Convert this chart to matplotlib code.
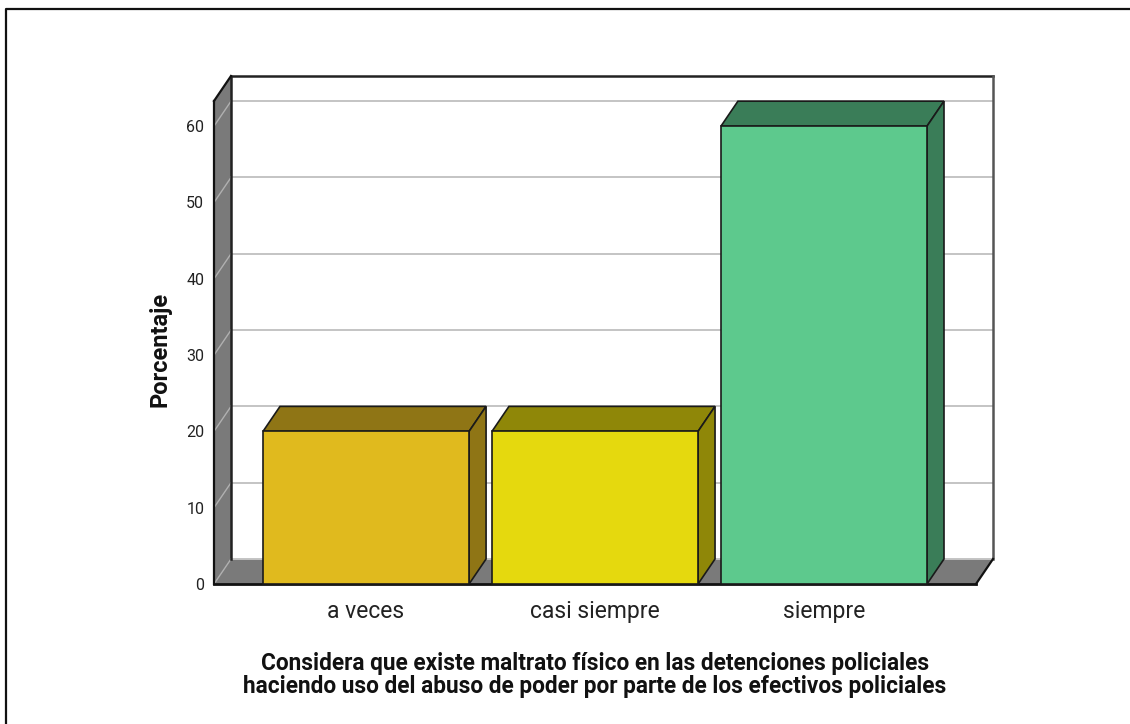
import matplotlib
matplotlib.use("Agg")
import matplotlib.pyplot as plt
from matplotlib.patches import Polygon, Rectangle
from matplotlib.transforms import Affine2D

categories = ["a veces", "casi siempre", "siempre"]
values = [20, 20, 60]
front_colors = ["#E0BA1E", "#E5D90E", "#5DC98D"]
dark_colors = ["#8F7515", "#8F8708", "#3A7D58"]
y_ticks = [0, 10, 20, 30, 40, 50, 60]
x_title = ("Considera que existe maltrato físico en las detenciones policiales\n"
           "haciendo uso del abuso de poder por parte de los efectivos policiales")

W, H = 1130, 724
plt.rcParams['font.family'] = ['Roboto', 'Liberation Sans', 'DejaVu Sans']

fig = plt.figure(figsize=(W / 100, H / 100), dpi=100)
ax = fig.add_axes([214 / W, 1 - 584 / H, 762 / W, 483 / H])
ax.set_xlim(-0.664, 2.664)
ax.set_ylim(0, 63.3)
ax.patch.set_visible(False)
for s in ax.spines.values():
    s.set_visible(False)

# depth of the fake 3d box, in pixels
dx, dy = 17, 25
back = ax.transData + Affine2D().translate(dx, dy)
xmin, xmax = ax.get_xlim()
ymax = ax.get_ylim()[1]
bar_w = 0.9
GREY = "#7A7A7A"


def to_px(x, y, depth=False):
    px = ax.transData.transform((x, y))
    return (px[0] + dx, px[1] + dy) if depth else tuple(px)


def poly(pts, **kw):
    ax.add_patch(Polygon(pts, closed=True, transform=None, clip_on=False, **kw))


def diagonal(x, y, color, lw, z):
    a, b = to_px(x, y), to_px(x, y, True)
    ax.plot([a[0], b[0]], [a[1], b[1]], transform=None, color=color, lw=lw, clip_on=False, zorder=z)


# floor and left wall
poly([to_px(xmin, 0), to_px(xmax, 0), to_px(xmax, 0, True), to_px(xmin, 0, True)],
     facecolor=GREY, edgecolor="none", zorder=1)
poly([to_px(xmin, 0), to_px(xmin, 0, True), to_px(xmin, ymax, True), to_px(xmin, ymax)],
     facecolor=GREY, edgecolor="none", zorder=1)

# gridlines on back wall and left wall
for t in y_ticks:
    ax.plot([xmin, xmax], [t, t], transform=back, color="#C4C4C4", lw=1.4, clip_on=False, zorder=2)
    diagonal(xmin, t, "#B0B0B0", 1, 2)

# box outline
ax.plot([xmin, xmin, xmax], [0, ymax, ymax], transform=back,
        color="#222222", lw=1.8, clip_on=False, zorder=2.5, solid_joinstyle="miter")
ax.plot([xmax, xmax], [0, ymax], transform=back, color="#555555", lw=1.8, clip_on=False, zorder=2.6)
diagonal(xmin, ymax, "#111111", 1.6, 2.6)
diagonal(xmax, 0, "#111111", 1.6, 2.6)
ax.plot([xmin, xmin], [0, ymax], color="#111111", lw=1.6, clip_on=False, zorder=2.6)
ax.plot([xmin, xmax], [0, 0], color="#111111", lw=2, clip_on=False, zorder=2.6)

# bars
for i, v in enumerate(values):
    x0, x1 = i - bar_w / 2, i + bar_w / 2
    ax.add_patch(Rectangle((x0, 0), bar_w, v, facecolor=front_colors[i], edgecolor="#1A1A1A",
                           lw=1.2, zorder=4, clip_on=False))
    poly([to_px(x0, v), to_px(x1, v), to_px(x1, v, True), to_px(x0, v, True)],
         facecolor=dark_colors[i], edgecolor="#1A1A1A", lw=1.2, zorder=3.5)
    poly([to_px(x1, 0), to_px(x1, v), to_px(x1, v, True), to_px(x1, 0, True)],
         facecolor=dark_colors[i], edgecolor="#1A1A1A", lw=1.2, zorder=3.5)

ax.set_xticks(range(len(categories)))
ax.set_xticklabels(categories, fontsize=16.5, color="#222222")
ax.set_yticks(y_ticks)
ax.tick_params(axis="y", length=0, pad=7, labelsize=11.5, labelcolor="#222222")
ax.tick_params(axis="x", length=0, pad=11.5)

fig.text(160 / W, 1 - 349 / H, "Porcentaje", rotation=90, ha="center", va="center",
         fontsize=17, fontweight="bold", color="#111111")
fig.text(595 / W, 1 - 675 / H, x_title, ha="center", va="center", fontsize=16.3,
         fontweight="bold", color="#111111", linespacing=1.0)

# outer frame of the screenshot, open on the right
fig.add_artist(plt.Line2D([6 / W, 6 / W, 1], [0, 1 - 9 / H, 1 - 9 / H],
                          color="#111111", lw=1.6, transform=fig.transFigure))

fig.savefig("out.png", dpi=100)
